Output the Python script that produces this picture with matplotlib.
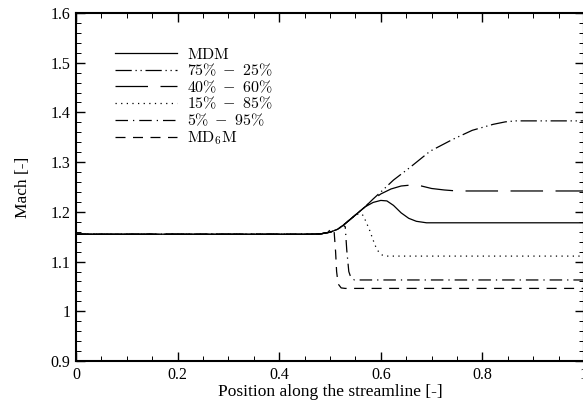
import matplotlib
matplotlib.use('Agg')
import matplotlib.pyplot as plt
from matplotlib.ticker import MultipleLocator

plt.rcParams['font.family'] = ['Liberation Serif', 'DejaVu Serif']
plt.rcParams['mathtext.fontset'] = 'cm'

# shared upstream part (all mixtures identical before the shock)
x_common = [0.0, 0.45, 0.48, 0.50, 0.515, 0.526, 0.54, 0.555, 0.569]
y_common = [1.155, 1.155, 1.1555, 1.159, 1.165, 1.173, 1.185, 1.198, 1.210]

x_mdm = x_common + [0.585, 0.60, 0.612, 0.625, 0.64, 0.655, 0.67, 0.69, 1.0]
y_mdm = y_common + [1.219, 1.223, 1.222, 1.213, 1.198, 1.187, 1.181, 1.178, 1.178]

x_7525 = x_common + [0.585, 0.60, 0.625, 0.657, 0.697, 0.742, 0.78, 0.821, 0.845, 0.865, 1.0]
y_7525 = y_common + [1.226, 1.240, 1.264, 1.289, 1.322, 1.346, 1.364, 1.376, 1.381, 1.383, 1.383]

x_4060 = x_common + [0.585, 0.60, 0.62, 0.64, 0.66, 0.68, 0.70, 0.725, 0.75, 1.0]
y_4060 = y_common + [1.225, 1.236, 1.246, 1.252, 1.254, 1.252, 1.247, 1.244, 1.242, 1.242]

x_1585 = x_common[:7] + [0.55, 0.558, 0.565, 0.571, 0.578, 0.585, 0.590, 0.596, 0.603, 0.612, 1.0]
y_1585 = y_common[:7] + [1.193, 1.197, 1.193, 1.180, 1.163, 1.143, 1.130, 1.119, 1.113, 1.111, 1.111]

x_0595 = x_common[:6] + [0.530, 0.533, 0.537, 0.541, 0.548, 1.0]
y_0595 = y_common[:6] + [1.170, 1.123, 1.080, 1.068, 1.063, 1.063]

x_md6m = x_common[:3] + [0.495, 0.503, 0.508, 0.511, 0.513, 0.516, 0.522, 0.53, 1.0]
y_md6m = y_common[:3] + [1.158, 1.167, 1.162, 1.120, 1.080, 1.055, 1.047, 1.046, 1.046]

fig = plt.figure(figsize=(5.83, 4.09), dpi=100)
ax = fig.add_axes([76/583, 48/409, 508/583, 348/409])

lw = 0.9
ax.plot(x_mdm, y_mdm, 'k-', lw=lw, label=r'$\mathrm{MDM}$')
ax.plot(x_7525, y_7525, 'k', lw=lw, linestyle=(0, (13, 3, 1, 3, 1, 3)), label=r'$75\%\;-\;25\%$')
ax.plot(x_4060, y_4060, 'k', lw=lw, linestyle=(0, (26, 10)), label=r'$40\%\;-\;60\%$')
ax.plot(x_1585, y_1585, 'k', lw=lw, linestyle=(0, (1, 3.5)), label=r'$15\%\;-\;85\%$')
ax.plot(x_0595, y_0595, 'k', lw=lw, linestyle=(0, (10, 4, 1, 4)), label=r'$5\%\;-\;95\%$')
ax.plot(x_md6m, y_md6m, 'k', lw=lw, linestyle=(0, (8, 6)), label=r'$\mathrm{MD_6M}$')

ax.set_xlim(0, 1)
ax.set_ylim(0.9, 1.6)
ax.xaxis.set_major_locator(MultipleLocator(0.2))
ax.xaxis.set_minor_locator(MultipleLocator(0.05))
ax.yaxis.set_major_locator(MultipleLocator(0.1))
ax.yaxis.set_minor_locator(MultipleLocator(0.02))
ax.set_xticks([0, 0.2, 0.4, 0.6, 0.8, 1.0], ['0', '0.2', '0.4', '0.6', '0.8', '1'])
ax.set_yticks([0.9, 1.0, 1.1, 1.2, 1.3, 1.4, 1.5, 1.6],
              ['0.9', '1', '1.1', '1.2', '1.3', '1.4', '1.5', '1.6'])
ax.tick_params(which='both', direction='in', top=True, right=True, labelsize=11.5, pad=4)
ax.tick_params(which='major', length=6.5, width=1.0)
ax.tick_params(which='minor', length=3.5, width=0.7)
for s in ax.spines.values():
    s.set_linewidth(1.5)

ax.set_xlabel('Position along the streamline [-]', fontsize=12.5, labelpad=1)
ax.set_ylabel('Mach [-]', fontsize=12.5, labelpad=14)

ax.legend(loc='upper left', bbox_to_anchor=(0.064, 0.921), frameon=False, fontsize=11.5,
          handlelength=3.9, handletextpad=0.63, labelspacing=0.01, borderaxespad=0)

fig.savefig('out.png', dpi=100)
